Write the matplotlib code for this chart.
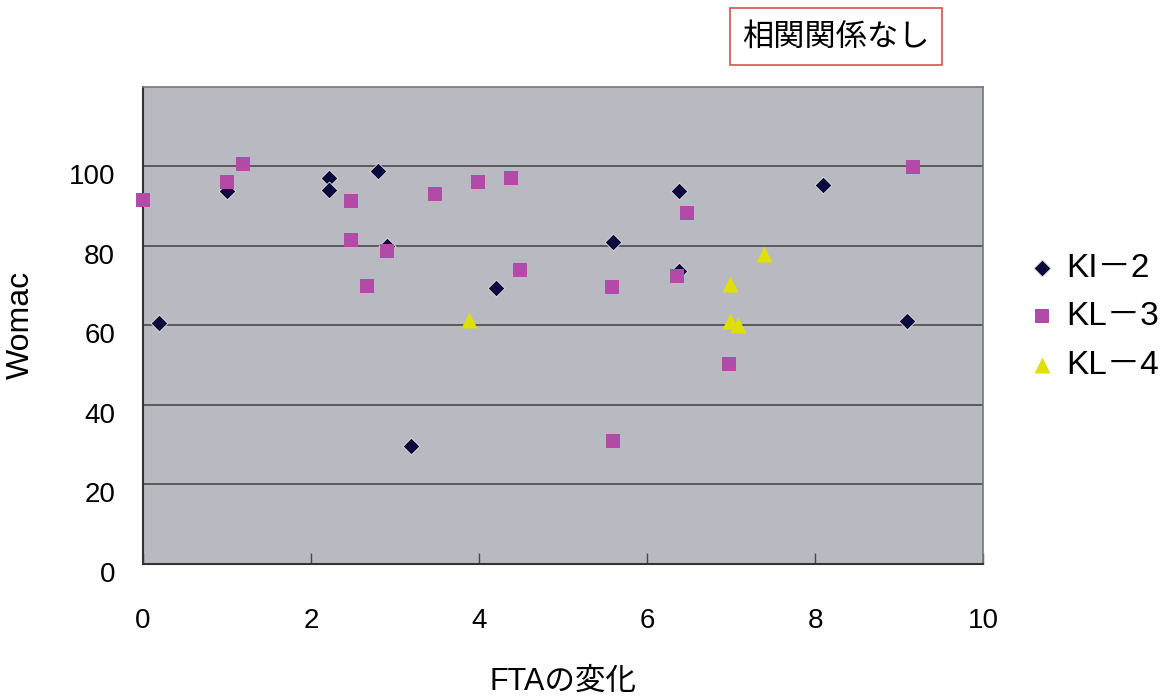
import matplotlib
matplotlib.use("Agg")
import matplotlib.pyplot as plt
from matplotlib.transforms import ScaledTranslation

plt.rcParams['font.family'] = ['Liberation Sans', 'Noto Sans CJK JP', 'DejaVu Sans']

# KI-2 (diamonds)
kl2_x = [0.19, 1.00, 2.21, 2.21, 2.80, 2.91, 3.19, 4.20, 5.60, 6.38, 6.38, 8.09, 9.09]
kl2_y = [60.7, 93.7, 97.1, 94.0, 98.8, 80.0, 29.6, 69.4, 81.0, 93.7, 73.7, 95.4, 61.2]
# KL-3 (squares)
kl3_x = [0.00, 1.00, 1.19, 2.48, 2.48, 2.90, 2.67, 3.48, 3.99, 4.38, 4.49, 5.58, 5.59, 6.36, 6.48, 6.98, 9.17]
kl3_y = [91.6, 96.2, 100.5, 91.4, 81.5, 78.6, 69.8, 93.1, 96.0, 97.1, 73.8, 69.6, 30.9, 72.5, 88.2, 50.2, 99.9]
# KL-4 (triangles)
kl4_x = [3.88, 6.99, 6.99, 7.08, 7.39]
kl4_y = [61.4, 70.3, 61.2, 60.1, 77.9]

series_labels = ["KI－2", "KL－3", "KL－4"]
x_ticks = [0, 2, 4, 6, 8, 10]
y_ticks = [0, 20, 40, 60, 80, 100]

fig = plt.figure(figsize=(11.76, 6.97), dpi=100)
fig.patch.set_facecolor('white')
ax = fig.add_axes([0.1216, 0.1915, 0.7143, 0.6836])
ax.set_facecolor('#b9b9c1')

ax.scatter(kl2_x, kl2_y, marker='D', s=8.6**2, color='#0b0b3f', edgecolors='#e8e8d8',
           linewidths=0.6, label=series_labels[0], clip_on=False, zorder=3)
ax.scatter(kl3_x, kl3_y, marker='s', s=10**2, color='#b24aa8', linewidths=0,
           label=series_labels[1], clip_on=False, zorder=3)
ax.scatter(kl4_x, kl4_y, marker='^', s=11.5**2, color='#e0e000', linewidths=0,
           label=series_labels[2], clip_on=False, zorder=3)

ax.set_xlim(0, 10)
ax.set_ylim(0, 120)
ax.set_xticks(x_ticks)
ax.set_yticks(y_ticks)
ax.yaxis.grid(True, color='#4a4a4a', linewidth=1.2)
ax.set_axisbelow(True)
ax.tick_params(axis='x', direction='in', length=8, width=1, color='#444444', pad=32, labelsize=20)
ax.tick_params(axis='y', length=0, pad=20, labelsize=20)
for lab in ax.get_yticklabels():
    lab.set_transform(lab.get_transform() + ScaledTranslation(0, -8/100, fig.dpi_scale_trans))

for side in ['left', 'bottom']:
    ax.spines[side].set_color('#333333')
    ax.spines[side].set_linewidth(1.5)
for side in ['top', 'right']:
    ax.spines[side].set_color('#777777')
    ax.spines[side].set_linewidth(1.2)

ax.set_ylabel("Womac", fontsize=23, labelpad=24)
ax.set_xlabel("FTAの変化", fontsize=22, labelpad=24)

leg = ax.legend(loc='upper left', bbox_to_anchor=(1.035, 0.68), frameon=False,
                fontsize=24, handletextpad=0.2, labelspacing=0.52, handlelength=1.0,
                borderaxespad=0)

fig.text(0.711, 0.947, "相関関係なし", fontsize=22.5, ha='center', va='center',
         family=['Noto Sans CJK JP'],
         bbox=dict(boxstyle='square,pad=0.4', facecolor='white', edgecolor='#d9534f', linewidth=1.2))

fig.savefig("out.png", dpi=100)
